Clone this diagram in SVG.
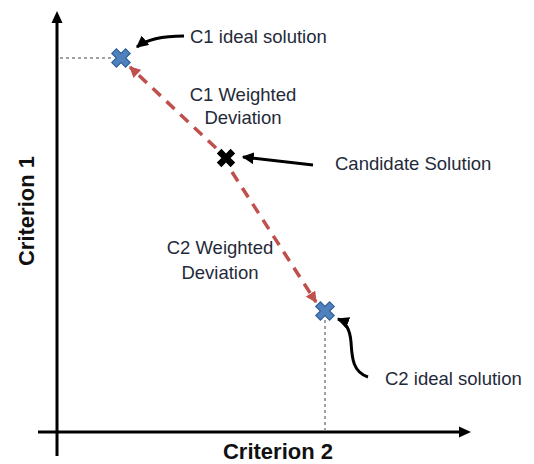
<svg xmlns="http://www.w3.org/2000/svg" width="534" height="464" viewBox="0 0 534 464">
<defs>
<style>
.t{font-family:"Liberation Sans",Arial,sans-serif;font-size:18.5px;fill:#1f2a3a}
.ax{font-family:"Liberation Sans",Arial,sans-serif;font-size:22px;font-weight:bold;fill:#111}
.axis{stroke:#000;stroke-width:3;fill:none}
.guide{stroke:#444;stroke-width:1;stroke-dasharray:3 3;fill:none}
.dev{stroke:#c0504d;stroke-width:3.5;stroke-dasharray:11 8;fill:none}
.ptr{stroke:#000;stroke-width:3;fill:none}
.bx{fill:#4f81bd;stroke:#2f5f9a;stroke-width:1}
.kx{fill:#000}
</style>
<marker id="ah" viewBox="0 0 10 10" refX="9" refY="5" markerWidth="4" markerHeight="4" orient="auto"><path d="M0,0L10,5L0,10z" fill="#000"/></marker>
<marker id="rh" viewBox="0 0 10 10" refX="9" refY="5" markerWidth="3.2" markerHeight="3.2" orient="auto"><path d="M0,0L10,5L0,10z" fill="#c0504d"/></marker>
<path id="cross" d="M-8,-4L-4,-8L0,-4L4,-8L8,-4L4,0L8,4L4,8L0,4L-4,8L-8,4L-4,0z"/>
</defs>
<rect width="534" height="464" fill="#fff"/>
<g id="axes">
<line class="axis" x1="57" y1="456" x2="57" y2="22"/>
<path d="M57,11L51.5,23L62.5,23z" fill="#000"/>
<line class="axis" x1="38" y1="432" x2="460" y2="432"/>
<path d="M471,432L459,426.5L459,437.5z" fill="#000"/>
<text class="ax" transform="translate(34,211) rotate(-90)" text-anchor="middle">Criterion 1</text>
<text class="ax" x="278" y="459" text-anchor="middle">Criterion 2</text>
</g>
<g id="connectors">
<line class="guide" x1="60" y1="58" x2="112" y2="58"/>
<line class="guide" x1="325" y1="320" x2="325" y2="430"/>
<line class="dev" x1="216" y1="148" x2="130" y2="67" marker-end="url(#rh)"/>
<line class="dev" x1="232" y1="172" x2="316" y2="302" marker-end="url(#rh)"/>
<path class="ptr" d="M184,36C162,36 147,39 137,47" marker-end="url(#ah)"/>
<path class="ptr" d="M313,165L243,157" marker-end="url(#ah)"/>
<path class="ptr" d="M368,377C352,372 352,356 351,342C350,330 346,322 338,319" marker-end="url(#ah)"/>
</g>
<g id="c1-ideal">
<use href="#cross" class="bx" transform="translate(121,58) scale(1.15)"/>
<text class="t" x="190" y="43">C1 ideal solution</text>
</g>
<g id="c1-dev">
<text class="t" x="243" y="101" text-anchor="middle">C1 Weighted</text>
<text class="t" x="243" y="124" text-anchor="middle">Deviation</text>
</g>
<g id="candidate">
<use href="#cross" class="kx" transform="translate(226,158) scale(1.15)"/>
<text class="t" x="335" y="170">Candidate Solution</text>
</g>
<g id="c2-dev">
<text class="t" x="220" y="254" text-anchor="middle">C2 Weighted</text>
<text class="t" x="220" y="279" text-anchor="middle">Deviation</text>
</g>
<g id="c2-ideal">
<use href="#cross" class="bx" transform="translate(325,311) scale(1.15)"/>
<text class="t" x="385" y="385">C2 ideal solution</text>
</g>
</svg>
